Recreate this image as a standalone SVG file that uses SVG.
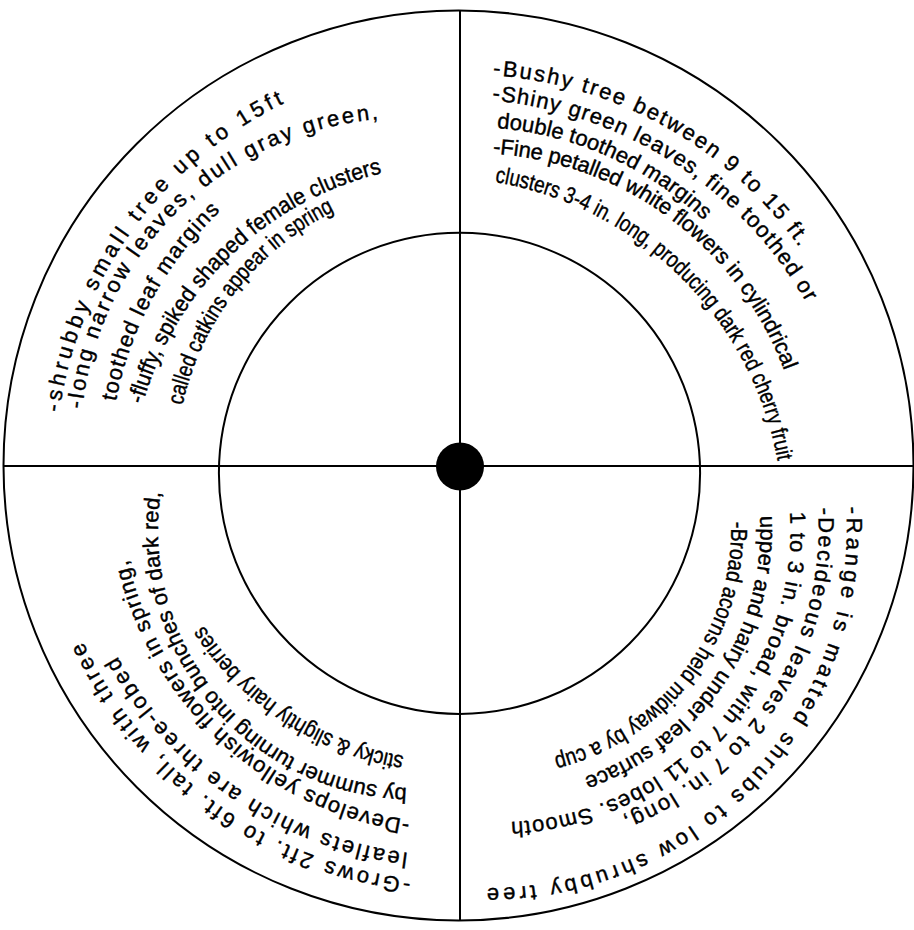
<svg xmlns="http://www.w3.org/2000/svg" width="914" height="930" viewBox="0 0 914 930">
<style>
.ring{fill:none;stroke:#000;stroke-width:2}
.axis{stroke:#000;stroke-width:2}
text{font-family:"Liberation Sans",Arial,sans-serif;fill:#000;stroke:#000;stroke-width:0.4px}
.sp{font-size:22px}
.nm{font-size:22px}
.cd{font-size:23px}
</style>
<defs>
<path id="p-tl1" d="M 59.5 412.6 A 404 404 0 0 1 284.8 102.9"/>
<path id="p-tl2" d="M 82.3 408.9 A 325 325 0 0 1 379.9 119.1"/>
<path id="p-tl3" d="M 116 401.6 A 350 350 0 0 1 221.3 210"/>
<path id="p-tl4" d="M 142.9 404.4 A 326 326 0 0 1 384.1 172.7"/>
<path id="p-tl5" d="M 182.5 405.5 A 284 284 0 0 1 335.5 210.7"/>
<path id="p-tr1" d="M 492.8 75.4 A 411.7 411.7 0 0 1 800.7 248.9"/>
<path id="p-tr2" d="M 492 100.4 A 404.4 404.4 0 0 1 807.1 304.1"/>
<path id="p-tr3" d="M 496.7 128 A 343 343 0 0 1 704.7 221.3"/>
<path id="p-tr4" d="M 492.8 153.7 A 333.5 333.5 0 0 1 784.9 372.8"/>
<path id="p-tr5" d="M 494.9 182.1 A 345.6 345.6 0 0 1 778 463.2"/>
<path id="p-br1" d="M 846 507 A 358 358 0 0 1 485 888"/>
<path id="p-br2" d="M 818 508 A 311 311 0 0 1 620.5 818.2"/>
<path id="p-br3" d="M 790 512 A 293 293 0 0 1 509 822"/>
<path id="p-br4" d="M 760 516 A 262.5 262.5 0 0 1 582 778"/>
<path id="p-br5" d="M 731 522 A 233.7 233.7 0 0 1 552 757"/>
<path id="p-bl1" d="M 411.1 879.1 A 416 416 0 0 1 82.1 639.8"/>
<path id="p-bl2" d="M 408 853 A 391 391 0 0 1 116.2 654.3"/>
<path id="p-bl3" d="M 410 820 A 338.2 338.2 0 0 1 127.5 558.2"/>
<path id="p-bl4" d="M 407 788 A 258 258 0 0 1 161 491"/>
<path id="p-bl5" d="M 404 756 A 298 298 0 0 1 202.5 623.8"/>
</defs>
<rect width="914" height="930" fill="#fff"/>
<g id="rings">
<circle class="ring" cx="458.5" cy="465.5" r="455"/>
<circle class="ring" cx="459.5" cy="473.3" r="240.6"/>
</g>
<g id="connectors">
<line class="axis" x1="460" y1="10" x2="460" y2="921"/>
<line class="axis" x1="3" y1="466" x2="914" y2="466"/>
</g>
<g id="hub"><circle cx="460" cy="466.5" r="24" fill="#000"/></g>
<g id="q-top-left">
<text class="sp"><textPath href="#p-tl1" textLength="398" lengthAdjust="spacing">-shrubby small tree up to 15ft</textPath></text>
<text class="sp"><textPath href="#p-tl2" textLength="449" lengthAdjust="spacing">-long narrow leaves, dull gray green,</textPath></text>
<text class="nm"><textPath href="#p-tl3" textLength="221" lengthAdjust="spacing">toothed leaf margins</textPath></text>
<text class="cd"><textPath href="#p-tl4" textLength="349" lengthAdjust="spacingAndGlyphs">-fluffy, spiked shaped female clusters</textPath></text>
<text class="cd"><textPath href="#p-tl5" textLength="255" lengthAdjust="spacingAndGlyphs">called catkins appear in spring</textPath></text>
</g>
<g id="q-top-right">
<text class="sp"><textPath href="#p-tr1" textLength="363" lengthAdjust="spacing">-Bushy tree between 9 to 15 ft.</textPath></text>
<text class="sp"><textPath href="#p-tr2" textLength="388" lengthAdjust="spacing">-Shiny green leaves, fine toothed or</textPath></text>
<text class="nm"><textPath href="#p-tr3" textLength="231" lengthAdjust="spacing">double toothed margins</textPath></text>
<text class="nm"><textPath href="#p-tr4" textLength="384" lengthAdjust="spacing">-Fine petalled white flowers in cylindrical</textPath></text>
<text class="cd"><textPath href="#p-tr5" textLength="423" lengthAdjust="spacingAndGlyphs">clusters 3-4 in. long, producing dark red cherry fruit</textPath></text>
</g>
<g id="q-bottom-right">
<text class="sp"><textPath href="#p-br1" textLength="587" lengthAdjust="spacing">-Range is matted shrubs to low shrubby tree</textPath></text>
<text class="sp"><textPath href="#p-br2" textLength="391" lengthAdjust="spacing">-Decideous leaves 2 to 7 in. long,</textPath></text>
<text class="nm"><textPath href="#p-br3" textLength="464" lengthAdjust="spacing">1 to 3 in. broad, with 7 to 11 lobes. Smooth</textPath></text>
<text class="nm"><textPath href="#p-br4" textLength="338" lengthAdjust="spacing">upper and hairy under leaf surface</textPath></text>
<text class="cd"><textPath href="#p-br5" textLength="318" lengthAdjust="spacingAndGlyphs">-Broad acorns held midway by a cup</textPath></text>
</g>
<g id="q-bottom-left">
<text class="sp"><textPath href="#p-bl1" textLength="423" lengthAdjust="spacing">-Grows 2ft. to 6ft. tall, with three</textPath></text>
<text class="sp"><textPath href="#p-bl2" textLength="364" lengthAdjust="spacing">leaflets which are three-lobed</textPath></text>
<text class="nm"><textPath href="#p-bl3" textLength="408" lengthAdjust="spacing">-Develops yellowish flowers in spring,</textPath></text>
<text class="nm"><textPath href="#p-bl4" textLength="434" lengthAdjust="spacing">by summer turning into bunches of dark red,</textPath></text>
<text class="cd"><textPath href="#p-bl5" textLength="246" lengthAdjust="spacingAndGlyphs">sticky &amp; slightly hairy berries</textPath></text>
</g>
</svg>
